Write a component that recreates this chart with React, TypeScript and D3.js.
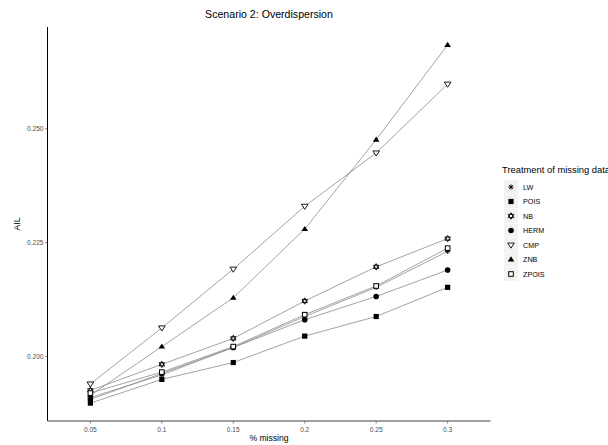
import React from "react";
import * as d3 from "d3";

const xLabels = ["0.05", "0.1", "0.15", "0.2", "0.25", "0.3"];
const seriesNames = ["LW", "POIS", "NB", "HERM", "CMP", "ZNB", "ZPOIS"];
const LW = [0.1910, 0.1960, 0.2020, 0.2088, 0.2152, 0.2231];
const POIS = [0.1898, 0.1950, 0.1987, 0.2045, 0.2088, 0.2152];
const NB = [0.1926, 0.1983, 0.2040, 0.2122, 0.2197, 0.2259];
const HERM = [0.1906, 0.1963, 0.2020, 0.2081, 0.2132, 0.2190];
const CMP = [0.1940, 0.2063, 0.2192, 0.2330, 0.2447, 0.2598];
const ZNB = [0.1915, 0.2022, 0.2129, 0.2280, 0.2476, 0.2684];
const ZPOIS = [0.1920, 0.1966, 0.2022, 0.2092, 0.2155, 0.2238];
const yTicks = [0.2, 0.225, 0.25];

const seriesValues: Record<string, number[]> = { LW, POIS, NB, HERM, CMP, ZNB, ZPOIS };

const W = 608, H = 445;
const left = 47.5, right = 490.5, top = 27, bottom = 421;
const FONT = "'Liberation Sans', Arial, Helvetica, sans-serif";

function Shape({ name, x, y }: { name: string; x: number; y: number }) {
  const s = 2.6;
  switch (name) {
    case "LW": {
      const lines = [];
      for (let i = 0; i < 4; i++) {
        const a = (i * Math.PI) / 4;
        lines.push(
          <line key={i} x1={x - s * Math.cos(a)} y1={y - s * Math.sin(a)} x2={x + s * Math.cos(a)} y2={y + s * Math.sin(a)} stroke="#000" strokeWidth={0.9} />
        );
      }
      return <g>{lines}</g>;
    }
    case "POIS":
      return <rect x={x - 2.6} y={y - 2.6} width={5.2} height={5.2} fill="#000" />;
    case "NB": {
      const r = 3.2;
      const t1 = [0, 1, 2].map((i) => { const a = -Math.PI / 2 + (i * 2 * Math.PI) / 3; return `${x + r * Math.cos(a)},${y + r * Math.sin(a)}`; }).join(" ");
      const t2 = [0, 1, 2].map((i) => { const a = Math.PI / 2 + (i * 2 * Math.PI) / 3; return `${x + r * Math.cos(a)},${y + r * Math.sin(a)}`; }).join(" ");
      return <g><polygon points={t1} fill="none" stroke="#000" strokeWidth={0.9} /><polygon points={t2} fill="none" stroke="#000" strokeWidth={0.9} /></g>;
    }
    case "HERM":
      return <circle cx={x} cy={y} r={2.8} fill="#000" />;
    case "CMP": {
      const r = 3.3;
      return <polygon points={`${x - r},${y - r * 0.6} ${x + r},${y - r * 0.6} ${x},${y + r * 0.95}`} fill="#fff" stroke="#000" strokeWidth={0.9} />;
    }
    case "ZNB": {
      const r = 3.3;
      return <polygon points={`${x - r},${y + r * 0.6} ${x + r},${y + r * 0.6} ${x},${y - r * 0.95}`} fill="#000" />;
    }
    case "ZPOIS":
      return <rect x={x - 2.3} y={y - 2.3} width={4.6} height={4.6} fill="#fff" stroke="#000" strokeWidth={1} />;
  }
  return null;
}

export default function App() {
  const all = seriesNames.flatMap((n) => seriesValues[n]);
  const mn = d3.min(all)!, mx = d3.max(all)!;
  const pad = (mx - mn) * 0.05;
  const x = d3.scalePoint<string>().domain(xLabels).range([left, right]).padding(0.6);
  const y = d3.scaleLinear().domain([mn - pad, mx + pad]).range([bottom, top]);
  const line = d3.line<number>().x((_, i) => x(xLabels[i])!).y((d) => y(d));
  const cx = (left + right) / 2;

  return (
    <svg width={W} height={H} style={{ position: "absolute", left: 0, top: 0, background: "#fff" }} fontFamily={FONT}>
      <rect width={W} height={H} fill="#fff" />
      <text x={cx} y={18} textAnchor="middle" fontSize={10.6} fill="#000">Scenario 2: Overdispersion</text>
      {seriesNames.map((n) => (
        <path key={n} d={line(seriesValues[n])!} fill="none" stroke="#8c8c8c" strokeWidth={0.8} />
      ))}
      {seriesNames.map((n) =>
        seriesValues[n].map((v, i) => <Shape key={n + i} name={n} x={x(xLabels[i])!} y={y(v)} />)
      )}
      <line x1={left} x2={left} y1={top} y2={bottom} stroke="#000" strokeWidth={1} />
      <line x1={left} x2={right} y1={bottom} y2={bottom} stroke="#7f7f7f" strokeWidth={1.4} />
      {yTicks.map((t) => (
        <g key={t}>
          <line x1={left - 2.5} x2={left} y1={y(t)} y2={y(t)} stroke="#333" strokeWidth={0.6} />
          <text x={left - 4} y={y(t) + 2.3} textAnchor="end" fontSize={6.6} fill="#4d4d4d">{d3.format(".3f")(t)}</text>
        </g>
      ))}
      {xLabels.map((l) => (
        <g key={l}>
          <line x1={x(l)!} x2={x(l)!} y1={bottom} y2={bottom + 2.5} stroke="#333" strokeWidth={0.6} />
          <text x={x(l)!} y={bottom + 10.5} textAnchor="middle" fontSize={6.6} fill="#4d4d4d">{l}</text>
        </g>
      ))}
      <text x={cx} y={441} textAnchor="middle" fontSize={8.6} fill="#000">% missing</text>
      <text transform={`translate(20,${(top + bottom) / 2}) rotate(-90)`} textAnchor="middle" fontSize={8.6} fill="#000">AIL</text>
      <text x={502} y={173} fontSize={9.4} fill="#000">Treatment of missing data</text>
      {seriesNames.map((n, i) => {
        const cy = 187 + i * 14.5;
        return (
          <g key={n}>
            <rect x={504} y={cy - 7} width={14} height={14} fill="#f2f2f2" />
            <Shape name={n} x={511} y={cy} />
            <text x={523} y={cy + 2.5} fontSize={7.2} fill="#000">{n}</text>
          </g>
        );
      })}
    </svg>
  );
}
